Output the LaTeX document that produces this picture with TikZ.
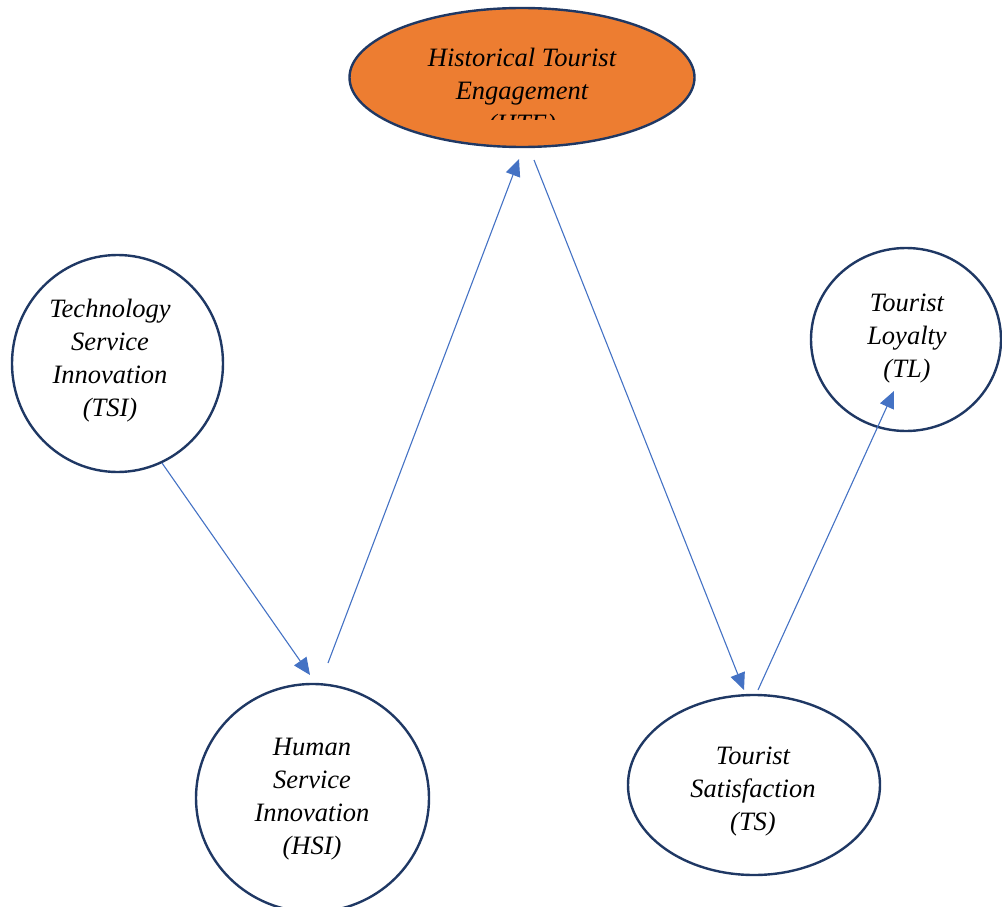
\documentclass[tikz,border=0pt]{standalone}
\usepackage{fontspec}
\setmainfont{Liberation Serif}
\usetikzlibrary{arrows.meta,shapes.geometric}
\definecolor{navy}{HTML}{1F3864}
\definecolor{hteorange}{HTML}{ED7D31}
\definecolor{linkblue}{HTML}{4472C4}
\begin{document}
\begin{tikzpicture}[x=1pt,y=-1pt,
  construct/.style={ellipse,draw=navy,line width=2.4pt,fill=white,inner sep=0pt},
  caption/.style={align=center,inner sep=0pt,font=\itshape\fontsize{26.5}{33}\selectfont},
  link/.style={draw=linkblue,line width=1.1pt,-{Triangle[length=17pt,width=15pt]}}]
\useasboundingbox (0,0) rectangle (1002,907);
\clip (0,0) rectangle (1002,907);

% constructs
\node[construct,fill=hteorange,minimum width=345pt,minimum height=139pt] (hte) at (522,77.5) {};
\node[construct,minimum width=211pt,minimum height=217pt] (tsi) at (117.5,363.5) {};
\node[construct,minimum width=190pt,minimum height=183pt] (tl) at (906,339.5) {};
\node[construct,minimum width=233pt,minimum height=228pt] (hsi) at (312.5,798) {};
\node[construct,minimum width=252pt,minimum height=180pt] (ts) at (754,785) {};

% captions (the third line of the engagement label is cut off by its text box)
\begin{scope}
  \clip (350,0) rectangle (695,119);
  \node[caption] (hte-text) at (522,93) {Historical Tourist\\Engagement\\(HTE)};
\end{scope}
\node[caption] (tsi-text) at (110,361) {Technology\\Service\\Innovation\\(TSI)};
\node[caption] (tl-text) at (907,339) {Tourist\\Loyalty\\(TL)};
\node[caption] (hsi-text) at (312,799) {Human\\Service\\Innovation\\(HSI)};
\node[caption] (ts-text) at (753,792) {Tourist\\Satisfaction\\(TS)};

% connector ends
\coordinate (tsi-out) at (162,463);
\coordinate (hsi-in) at (310,675);
\coordinate (hsi-out) at (328,663);
\coordinate (hte-in) at (519,159);
\coordinate (hte-out) at (534,160);
\coordinate (ts-in) at (744,690);
\coordinate (ts-out) at (758,690);
\coordinate (tl-in) at (894,391);

% paths
\draw[link] (tsi-out) -- (hsi-in);
\draw[link] (hsi-out) -- (hte-in);
\draw[link] (hte-out) -- (ts-in);
\draw[link] (ts-out) -- (tl-in);
\end{tikzpicture}
\end{document}
